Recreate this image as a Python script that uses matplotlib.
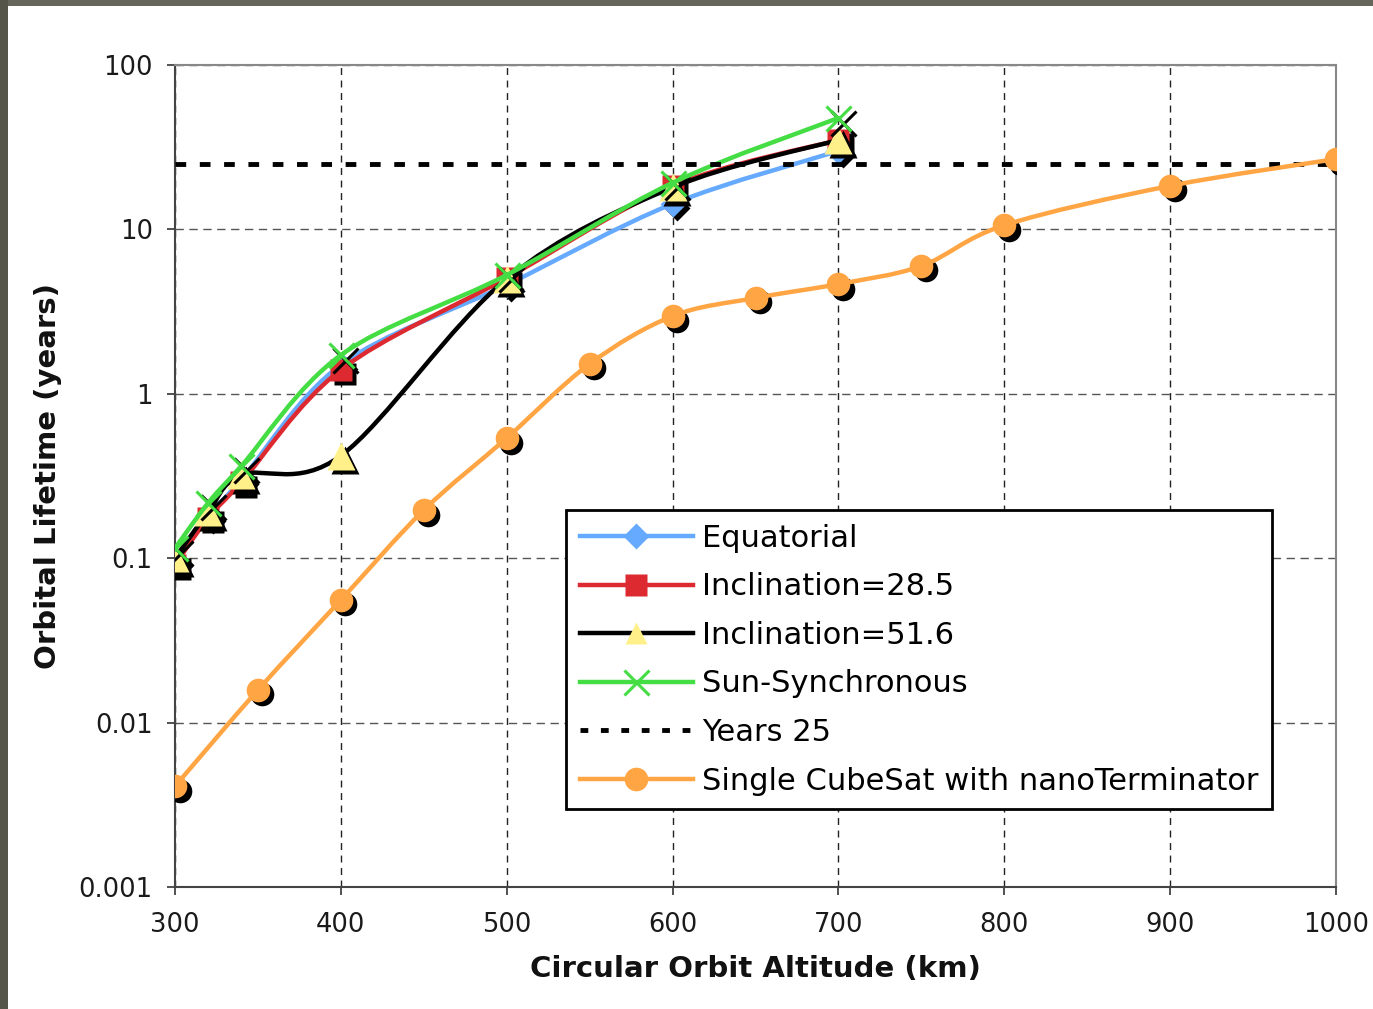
import numpy as np
import matplotlib
matplotlib.use("Agg")
import matplotlib.pyplot as plt
from matplotlib.path import Path
from matplotlib.patches import PathPatch, Rectangle
from matplotlib.lines import Line2D
from matplotlib.transforms import ScaledTranslation

# ---------------- data ----------------
alt_main = [300, 320, 340, 400, 500, 600, 700]
equatorial = [0.095, 0.18, 0.30, 1.5, 4.6, 14.3, 30.0]
incl_285 = [0.091, 0.176, 0.29, 1.40, 5.06, 18.4, 35.0]
incl_516 = [0.10, 0.19, 0.32, 0.42, 5.0, 18.0, 35.0]
sun_sync = [0.115, 0.217, 0.364, 1.72, 5.28, 19.2, 47.6]

years25_x = [300, 1000]
years25_y = [25, 25]

alt_cube = [300, 350, 400, 450, 500, 550, 600, 650, 700, 750, 800, 900, 1000]
cubesat = [0.0041, 0.0158, 0.0557, 0.196, 0.538, 1.52, 2.97, 3.83, 4.65, 5.99, 10.6, 18.4, 26.8]

x_ticks = [300, 400, 500, 600, 700, 800, 900, 1000]
y_ticks = [0.001, 0.01, 0.1, 1, 10, 100]
y_tick_labels = ["0.001", "0.01", "0.1", "1", "10", "100"]

labels = ["Equatorial", "Inclination=28.5", "Inclination=51.6",
          "Sun-Synchronous", "Years 25", "Single CubeSat with nanoTerminator"]

# ---------------- figure ----------------
W, H, DPI = 1373, 1009, 100
fig = plt.figure(figsize=(W / DPI, H / DPI), dpi=DPI)
fig.patch.set_facecolor("white")
ax = fig.add_axes([175 / W, 1 - 887 / H, (1336 - 175) / W, (887 - 65) / H])
ax.set_yscale("log")
ax.set_xlim(300, 1000)
ax.set_ylim(0.001, 100)

# border bands of the screenshot
fig.patches.append(Rectangle((0, 1 - 6 / H), 1, 6 / H, transform=fig.transFigure,
                             facecolor="#66665a", edgecolor="none", zorder=-5))
fig.patches.append(Rectangle((0, 0), 8 / W, 1, transform=fig.transFigure,
                             facecolor="#55554a", edgecolor="none", zorder=-5))


def smooth_path(xs, ys):
    X = np.asarray(xs, float)
    L = np.log10(np.asarray(ys, float))
    n = len(X)
    verts = [(X[0], L[0])]
    codes = [Path.MOVETO]
    for i in range(n - 1):
        p0 = i - 1 if i > 0 else i
        p3 = i + 2 if i + 2 < n else i + 1
        c1 = (X[i] + (X[i + 1] - X[p0]) / 6, L[i] + (L[i + 1] - L[p0]) / 6)
        c2 = (X[i + 1] - (X[p3] - X[i]) / 6, L[i + 1] - (L[p3] - L[i]) / 6)
        verts += [c1, c2, (X[i + 1], L[i + 1])]
        codes += [Path.CURVE4] * 3
    v = np.array(verts)
    v[:, 1] = 10 ** v[:, 1]
    return Path(v, codes)


shadow = ax.transData + ScaledTranslation(4.5 / DPI, -4.5 / DPI, fig.dpi_scale_trans)

series = [
    (alt_main, equatorial, "#66aaff", dict(marker="D", markersize=13, mec="none")),
    (alt_main, incl_285, "#dd2a30", dict(marker="s", markersize=16, mec="none")),
    (alt_main, incl_516, "#000000", dict(marker="^", markersize=20, mec="none", mfc="#fff08a")),
    (alt_main, sun_sync, "#44dd44", dict(marker="x", markersize=18, mew=2.2)),
    None,
    (alt_cube, cubesat, "#ffa544", dict(marker="o", markersize=17, mec="none")),
]

z = 3
handles = []
for k, s in enumerate(series):
    if s is None:
        ax.plot(years25_x, years25_y, color="black", lw=3.5,
                dashes=(2.2, 2.8), zorder=z)
        handles.append(Line2D([], [], color="black", lw=3.5, dashes=(1.6, 2.6)))
        z += 1
        continue
    xs, ys, col, mk = s
    mk = dict(mk)
    mfc = mk.pop("mfc", col)
    sh = dict(mk)
    if sh["marker"] == "x":
        ax.plot(xs, ys, ls="none", color="black", transform=shadow, zorder=z, **sh)
    else:
        sh.pop("mec", None)
        ax.plot(xs, ys, ls="none", mfc="black", mec="none", transform=shadow, zorder=z, **sh)
    ax.add_patch(PathPatch(smooth_path(xs, ys), fill=False, edgecolor=col, lw=3.2,
                           capstyle="round", joinstyle="round", zorder=z + 0.1))
    lmk = dict(mk)
    if lmk["marker"] == "^":
        lmk["markersize"] = 16
    if mk["marker"] == "x":
        ax.plot(xs, ys, ls="none", color=col, zorder=z + 0.2, **mk)
        handles.append(Line2D([], [], color=col, lw=3.2, **lmk))
    else:
        ax.plot(xs, ys, ls="none", mfc=mfc, zorder=z + 0.2, **mk)
        handles.append(Line2D([], [], color=col, lw=3.2, mfc=mfc, **lmk))
    z += 1

# ---------------- axes styling ----------------
ax.set_xticks(x_ticks)
ax.set_yticks(y_ticks)
ax.set_yticklabels(y_tick_labels)
ax.yaxis.set_minor_locator(matplotlib.ticker.NullLocator())
ax.tick_params(axis="both", which="major", direction="out", length=6, width=1.2,
               colors="#333333", labelsize=18.5, labelcolor="#1a1a1a")
ax.tick_params(axis="x", pad=12)
ax.tick_params(axis="y", pad=10)
ax.xaxis.grid(True, color="#222222", lw=1.0, dashes=(5, 4))
ax.yaxis.grid(True, color="#555555", lw=1.0, dashes=(6, 4))
ax.set_axisbelow(True)
for side in ["left", "bottom"]:
    ax.spines[side].set_color("#444444")
    ax.spines[side].set_linewidth(1.5)
for side in ["top", "right"]:
    ax.spines[side].set_color("#888888")
    ax.spines[side].set_linewidth(1.5)

ax.set_xlabel("Circular Orbit Altitude (km)", fontsize=21, fontweight="bold",
              color="#111111", labelpad=12)
ax.set_ylabel("Orbital Lifetime (years)", fontsize=21, fontweight="bold",
              color="#111111", labelpad=12)

leg = ax.legend(handles, labels, loc="upper left",
                bbox_to_anchor=(566 / W, 1 - 510 / H), bbox_transform=fig.transFigure,
                borderaxespad=0, fontsize=22, frameon=True, fancybox=False,
                edgecolor="black", framealpha=1, handlelength=3.7,
                handletextpad=0.3, labelspacing=0.64, borderpad=0.45)
leg.get_frame().set_linewidth(2)
leg.set_zorder(20)

fig.savefig("out.png", dpi=DPI, facecolor="white")
